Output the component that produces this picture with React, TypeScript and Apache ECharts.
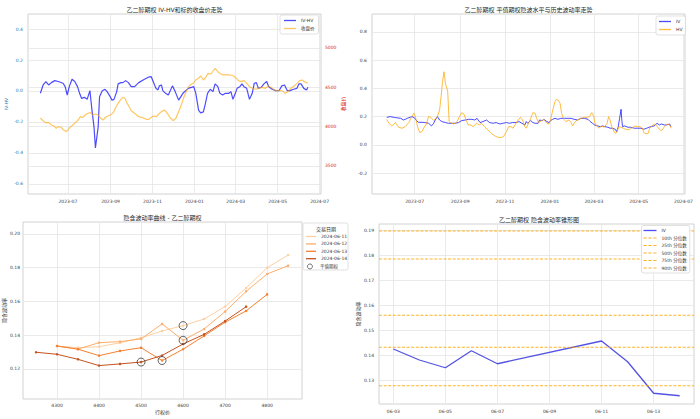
import React, { useEffect, useRef } from 'react';
import * as echarts from 'echarts';

// ---------- Top-left: IV-HV and underlying close ----------
const ivHvDates = [
  '2023-05-22', '2023-05-26', '2023-05-30',
  '2023-06-03', '2023-06-07', '2023-06-12', '2023-06-17', '2023-06-24', '2023-06-27', '2023-06-30',
  '2023-07-03', '2023-07-07', '2023-07-11', '2023-07-15', '2023-07-18', '2023-07-21', '2023-07-25', '2023-07-29',
  '2023-08-02', '2023-08-05', '2023-08-08', '2023-08-10', '2023-08-14', '2023-08-16', '2023-08-20', '2023-08-24', '2023-08-27', '2023-08-31',
  '2023-09-03', '2023-09-06', '2023-09-10', '2023-09-12', '2023-09-16', '2023-09-19', '2023-09-23', '2023-09-27',
  '2023-10-01', '2023-10-06', '2023-10-12', '2023-10-19', '2023-10-26', '2023-10-30',
  '2023-11-02', '2023-11-06', '2023-11-09', '2023-11-11', '2023-11-14', '2023-11-16', '2023-11-20', '2023-11-24', '2023-11-30',
  '2023-12-04', '2023-12-09', '2023-12-16', '2023-12-23', '2023-12-31',
  '2024-01-03', '2024-01-07', '2024-01-10', '2024-01-14', '2024-01-17', '2024-01-20', '2024-01-24', '2024-01-28', '2024-01-31',
  '2024-02-04', '2024-02-07', '2024-02-11', '2024-02-15', '2024-02-20', '2024-02-23', '2024-02-26', '2024-02-29',
  '2024-03-03', '2024-03-07', '2024-03-10', '2024-03-13', '2024-03-17', '2024-03-21', '2024-03-25', '2024-03-28', '2024-03-31',
  '2024-04-03', '2024-04-07', '2024-04-11', '2024-04-15', '2024-04-18', '2024-04-23', '2024-04-28',
  '2024-05-03', '2024-05-07', '2024-05-11', '2024-05-15', '2024-05-19', '2024-05-24', '2024-05-29',
  '2024-06-01', '2024-06-04', '2024-06-08', '2024-06-12', '2024-06-14',
];
const ivHvValues = [
  -0.015, 0.039, 0.061,
  0.039, 0.054, 0.067, 0.061, 0.050, 0.028, -0.026,
  0.028, 0.076, 0.061, 0.028, -0.015, -0.048, -0.041, -0.054,
  0.002, -0.124, -0.233, -0.367, -0.233, -0.037, 0.002, 0.011, -0.004, -0.033,
  -0.059, -0.054, -0.004, 0.046, 0.054, 0.054, 0.067, 0.054,
  0.028, 0.028, 0.054, 0.072, 0.089, 0.093,
  0.061, 0.017, 0.007, 0.033, 0.039, 0.002, -0.015, -0.026, 0.033,
  -0.004, -0.059, -0.011, 0.017, 0.028,
  -0.015, -0.124, -0.141, -0.135, -0.080, -0.015, 0.011, -0.004, 0.046,
  0.028, -0.015, -0.026, -0.015, -0.015, -0.004, -0.054, -0.020,
  0.017, 0.028, 0.046, 0.028, 0.017, -0.054, -0.015, 0.050, 0.054,
  0.017, 0.024, 0.046, 0.061, 0.028, 0.011, 0.002,
  0.002, 0.033, 0.039, 0.002, 0.002, 0.011, 0.017,
  0.046, 0.046, 0.017, 0.007, 0.024,
];
const closeDates = [
  '2023-05-22', '2023-05-26', '2023-05-29',
  '2023-06-03', '2023-06-07', '2023-06-11', '2023-06-14', '2023-06-17', '2023-06-21', '2023-06-25', '2023-06-29',
  '2023-07-01', '2023-07-05', '2023-07-08', '2023-07-12', '2023-07-16', '2023-07-19', '2023-07-23', '2023-07-26', '2023-07-30',
  '2023-08-03', '2023-08-06', '2023-08-10', '2023-08-14', '2023-08-18', '2023-08-21', '2023-08-25', '2023-08-28',
  '2023-09-01', '2023-09-05', '2023-09-08', '2023-09-12', '2023-09-16', '2023-09-19', '2023-09-22', '2023-09-24', '2023-09-28',
  '2023-10-01', '2023-10-05', '2023-10-09', '2023-10-12', '2023-10-16', '2023-10-20', '2023-10-23', '2023-10-27', '2023-10-31',
  '2023-11-04', '2023-11-07', '2023-11-10', '2023-11-14', '2023-11-18', '2023-11-22', '2023-11-27',
  '2023-12-01', '2023-12-05', '2023-12-08', '2023-12-12', '2023-12-16', '2023-12-20', '2023-12-23', '2023-12-26', '2023-12-31',
  '2024-01-03', '2024-01-07', '2024-01-10', '2024-01-14', '2024-01-18', '2024-01-21', '2024-01-25', '2024-01-29', '2024-01-31',
  '2024-02-04', '2024-02-07', '2024-02-11', '2024-02-16', '2024-02-22', '2024-02-27',
  '2024-03-02', '2024-03-05', '2024-03-09', '2024-03-13', '2024-03-16', '2024-03-21', '2024-03-25', '2024-03-30',
  '2024-04-03', '2024-04-08', '2024-04-13', '2024-04-18', '2024-04-23', '2024-04-28',
  '2024-05-02', '2024-05-07', '2024-05-12', '2024-05-16', '2024-05-20', '2024-05-25', '2024-05-29',
  '2024-06-02', '2024-06-06', '2024-06-09', '2024-06-14',
];
const closeValues = [
  4106, 4076, 4051,
  4051, 4021, 4008, 3979, 4000, 3992, 3958, 3936,
  3958, 4000, 4021, 4051, 4085, 4127, 4119, 4148, 4170,
  4178, 4148, 4161, 4148, 4106, 4085, 4119, 4136,
  4148, 4178, 4233, 4297, 4347, 4373, 4360, 4318, 4254,
  4203, 4178, 4148, 4127, 4119, 4106, 4093, 4093, 4127,
  4136, 4127, 4161, 4191, 4212, 4178, 4110,
  4076, 4106, 4170, 4254, 4360, 4445, 4500, 4530, 4559,
  4593, 4614, 4644, 4593, 4636, 4678, 4669, 4720, 4742,
  4699, 4678, 4657, 4657, 4657, 4644,
  4614, 4585, 4572, 4585, 4559, 4508, 4487, 4475,
  4487, 4500, 4487, 4517, 4487, 4458,
  4458, 4458, 4424, 4445, 4487, 4517, 4551,
  4585, 4593, 4572, 4551,
];

// ---------- Top-right: ATM IV vs HV ----------
const ivDates = [
  '2023-05-24', '2023-05-29',
  '2023-06-05', '2023-06-12', '2023-06-16', '2023-06-21', '2023-06-27', '2023-06-30',
  '2023-07-03', '2023-07-06', '2023-07-11', '2023-07-15', '2023-07-20', '2023-07-24', '2023-07-27', '2023-07-29',
  '2023-08-01', '2023-08-04', '2023-08-07', '2023-08-12', '2023-08-16', '2023-08-21', '2023-08-25', '2023-08-30',
  '2023-09-03', '2023-09-08', '2023-09-12', '2023-09-17', '2023-09-21', '2023-09-24', '2023-09-28',
  '2023-10-02', '2023-10-07', '2023-10-11', '2023-10-16', '2023-10-20', '2023-10-25', '2023-10-29',
  '2023-11-03', '2023-11-07', '2023-11-11', '2023-11-16', '2023-11-20', '2023-11-24', '2023-11-28', '2023-11-30',
  '2023-12-02', '2023-12-06', '2023-12-09', '2023-12-12', '2023-12-16', '2023-12-18', '2023-12-22', '2023-12-24', '2023-12-28', '2023-12-31',
  '2024-01-02', '2024-01-05', '2024-01-08', '2024-01-12', '2024-01-16', '2024-01-21', '2024-01-26', '2024-01-30',
  '2024-02-03', '2024-02-08', '2024-02-12', '2024-02-17', '2024-02-22', '2024-02-25', '2024-02-28',
  '2024-03-02', '2024-03-06', '2024-03-10', '2024-03-13', '2024-03-16', '2024-03-20', '2024-03-23', '2024-03-26', '2024-03-30',
  '2024-04-01', '2024-04-03', '2024-04-05', '2024-04-07', '2024-04-08', '2024-04-09', '2024-04-12', '2024-04-16', '2024-04-20', '2024-04-25', '2024-04-29',
  '2024-05-04', '2024-05-08', '2024-05-12', '2024-05-15', '2024-05-18', '2024-05-22', '2024-05-26', '2024-05-29',
  '2024-06-01', '2024-06-05', '2024-06-08', '2024-06-12', '2024-06-14',
];
const ivValues = [
  0.195, 0.200,
  0.193, 0.188, 0.176, 0.188, 0.200, 0.195,
  0.176, 0.160, 0.160, 0.158, 0.153, 0.134, 0.153, 0.176,
  0.200, 0.176, 0.165, 0.158, 0.153, 0.153, 0.153, 0.158,
  0.172, 0.176, 0.181, 0.181, 0.176, 0.188, 0.158,
  0.165, 0.176, 0.158, 0.153, 0.158, 0.148, 0.153,
  0.158, 0.153, 0.158, 0.158, 0.165, 0.153, 0.141, 0.165,
  0.153, 0.172, 0.158, 0.153, 0.153, 0.176, 0.172, 0.181, 0.165, 0.158,
  0.172, 0.181, 0.188, 0.181, 0.188, 0.188, 0.188, 0.188,
  0.181, 0.176, 0.188, 0.188, 0.181, 0.165, 0.153,
  0.141, 0.134, 0.129, 0.134, 0.129, 0.125, 0.118, 0.118, 0.111,
  0.094, 0.125, 0.188, 0.252, 0.176, 0.129, 0.134, 0.125, 0.125, 0.118, 0.118,
  0.118, 0.111, 0.118, 0.125, 0.129, 0.134, 0.153, 0.141,
  0.148, 0.141, 0.141, 0.148, 0.129,
];
const hvDates = [
  '2023-05-24', '2023-05-27', '2023-05-31',
  '2023-06-05', '2023-06-09', '2023-06-14', '2023-06-18', '2023-06-23', '2023-06-27', '2023-06-30',
  '2023-07-02', '2023-07-05', '2023-07-08', '2023-07-11', '2023-07-14', '2023-07-17', '2023-07-20', '2023-07-23', '2023-07-27', '2023-07-30',
  '2023-08-01', '2023-08-04', '2023-08-06', '2023-08-08', '2023-08-10', '2023-08-12', '2023-08-15', '2023-08-17', '2023-08-19', '2023-08-23', '2023-08-27', '2023-08-31',
  '2023-09-03', '2023-09-06', '2023-09-09', '2023-09-12', '2023-09-15', '2023-09-19', '2023-09-23', '2023-09-27', '2023-09-30',
  '2023-10-04', '2023-10-09', '2023-10-13', '2023-10-18', '2023-10-22', '2023-10-27', '2023-10-30',
  '2023-11-03', '2023-11-06', '2023-11-09', '2023-11-12', '2023-11-16', '2023-11-19', '2023-11-22', '2023-11-25', '2023-11-28', '2023-11-30',
  '2023-12-03', '2023-12-06', '2023-12-09', '2023-12-12', '2023-12-14', '2023-12-17', '2023-12-21', '2023-12-24', '2023-12-28', '2023-12-31',
  '2024-01-02', '2024-01-05', '2024-01-08', '2024-01-10', '2024-01-13', '2024-01-15', '2024-01-17', '2024-01-20', '2024-01-23', '2024-01-27', '2024-01-30',
  '2024-02-01', '2024-02-03', '2024-02-07', '2024-02-10', '2024-02-13', '2024-02-17', '2024-02-21', '2024-02-24', '2024-02-27',
  '2024-03-01', '2024-03-02', '2024-03-05', '2024-03-08', '2024-03-11', '2024-03-15', '2024-03-19', '2024-03-21', '2024-03-23', '2024-03-26', '2024-03-30',
  '2024-04-01', '2024-04-04', '2024-04-07', '2024-04-10', '2024-04-13', '2024-04-17', '2024-04-19', '2024-04-23', '2024-04-26', '2024-04-29',
  '2024-05-03', '2024-05-06', '2024-05-08', '2024-05-11', '2024-05-14', '2024-05-16', '2024-05-20', '2024-05-23', '2024-05-27', '2024-05-31',
  '2024-06-02', '2024-06-05', '2024-06-08', '2024-06-12', '2024-06-14',
];
const hvValues = [
  0.181, 0.153, 0.134,
  0.158, 0.125, 0.118, 0.129, 0.158, 0.200, 0.224,
  0.200, 0.129, 0.087, 0.094, 0.125, 0.148, 0.200, 0.195, 0.172, 0.188,
  0.200, 0.247, 0.341, 0.447, 0.518, 0.435, 0.380, 0.165, 0.158, 0.148, 0.158, 0.200,
  0.228, 0.219, 0.176, 0.141, 0.141, 0.129, 0.153, 0.141, 0.153,
  0.129, 0.106, 0.082, 0.064, 0.054, 0.052, 0.059,
  0.094, 0.129, 0.129, 0.118, 0.153, 0.176, 0.195, 0.176, 0.129, 0.118,
  0.153, 0.188, 0.228, 0.224, 0.188, 0.158, 0.172, 0.181, 0.153, 0.148,
  0.176, 0.247, 0.306, 0.322, 0.313, 0.294, 0.224, 0.181, 0.165, 0.176, 0.158,
  0.134, 0.153, 0.176, 0.181, 0.188, 0.195, 0.195, 0.200, 0.228,
  0.200, 0.158, 0.134, 0.118, 0.134, 0.125, 0.153, 0.200, 0.176, 0.118, 0.082,
  0.087, 0.129, 0.125, 0.118, 0.111, 0.106, 0.111, 0.125, 0.134, 0.129,
  0.129, 0.118, 0.087, 0.078, 0.082, 0.118, 0.141, 0.148, 0.125, 0.101,
  0.106, 0.129, 0.148, 0.141, 0.118,
];

// ---------- Bottom-left: smile ----------
const strikes = [4250, 4300, 4350, 4400, 4450, 4500, 4550, 4600, 4650, 4700, 4750, 4800, 4850];
const smileDates = ['2024-06-11', '2024-06-12', '2024-06-13', '2024-06-14'];
const smile0611 = [null, 0.1336, 0.1326, 0.1332, 0.1355, 0.1385, 0.1425, 0.1457, 0.1496, 0.157, 0.168, 0.180, 0.1875];
const smile0612 = [null, 0.1336, 0.1318, 0.1356, 0.1362, 0.1378, 0.1467, 0.137, 0.1437, 0.154, 0.166, 0.1763, 0.1812];
const smile0613 = [null, 0.1336, 0.1317, 0.1279, 0.1307, 0.1326, 0.125, 0.1317, 0.1396, 0.1477, 0.1544, 0.1642, null];
const smile0614 = [0.1299, 0.1287, 0.1257, 0.122, 0.123, 0.1241, 0.128, 0.1348, 0.1405, 0.1484, 0.1569, null, null];
const atmStrikes = [4600, 4600, 4550, 4500];
const atmIV = [0.1457, 0.137, 0.125, 0.1241];

// ---------- Bottom-right: cone ----------
const coneDates = ['2024-06-03', '2024-06-04', '2024-06-05', '2024-06-06', '2024-06-07', '2024-06-11', '2024-06-12', '2024-06-13', '2024-06-14'];
const coneIV = [0.1424, 0.138, 0.1349, 0.1417, 0.1365, 0.1456, 0.1373, 0.1247, 0.1237];
const pctLabels = ['10th 分位数', '25th 分位数', '50th 分位数', '75th 分位数', '90th 分位数'];
const pctValues = [0.1277, 0.1431, 0.1559, 0.1784, 0.1896];

// ---------- tick labels ----------
const monthTickDates = ['2023-07-01', '2023-09-01', '2023-11-01', '2024-01-01', '2024-03-01', '2024-05-01', '2024-07-01'];
const dayTickDates = ['2024-06-03', '2024-06-05', '2024-06-07', '2024-06-09', '2024-06-11', '2024-06-13'];
const ivHvTicks = [-0.6, -0.4, -0.2, 0, 0.2, 0.4];
const priceTicks = [3500, 4000, 4500, 5000];
const trTicks = [-0.2, 0, 0.2, 0.4, 0.6, 0.8];
const strikeTicks = [4300, 4400, 4500, 4600, 4700, 4800];
const smileTicks = [0.12, 0.14, 0.16, 0.18, 0.2];
const coneTicks = [0.13, 0.14, 0.15, 0.16, 0.17, 0.18, 0.19];

const FONT = "'DejaVu Sans', 'Noto Sans CJK SC', sans-serif";
const GRIDLINE = '#e4e4e4';
const TICK = '#3a3a3a';
const BORDER = '#d2d2d2';
const LBL = 4.5;

const ts = (d: string, h = 0, mi = 0) => {
  const [y, m, dd] = d.split('-').map(Number);
  return Date.UTC(y, m - 1, dd, h, mi);
};
const pad = (n: number) => String(n).padStart(2, '0');
const fmtYM = (v: number) => {
  const d = new Date(v);
  return `${d.getUTCFullYear()}-${pad(d.getUTCMonth() + 1)}`;
};
const fmtMD = (v: number) => {
  const d = new Date(v);
  return `${pad(d.getUTCMonth() + 1)}-${pad(d.getUTCDate())}`;
};
const pairs = (xs: any[], ys: (number | null)[]) =>
  xs.map((x, i) => [x, ys[i]]).filter((p) => p[1] !== null && p[1] !== undefined);

const monthTicks = monthTickDates.map((d) => ts(d));
const dayTicks = dayTickDates.map((d) => ts(d));
const tMin = ts('2023-05-04');
const tMax = ts('2024-07-03');
const cMin = ts('2024-06-02', 10, 48);
const cMax = ts('2024-06-14', 13, 12);

const DASH_ICON = 'path://M0 0H3V1H0Z M4.5 0H7.5V1H4.5Z M9 0H12V1H9Z';

function valueAxis(gridIndex: number, min: number, max: number, ticks: number[], fmt: (v: number) => string, color = TICK, margin = 4) {
  return {
    type: 'value',
    gridIndex,
    min,
    max,
    scale: true,
    axisLine: { show: false },
    axisTick: { show: false, customValues: ticks },
    axisLabel: { customValues: ticks, formatter: fmt, fontSize: LBL, color, margin, fontFamily: FONT, hideOverlap: false },
    splitLine: { show: true, lineStyle: { color: GRIDLINE, width: 0.8 } },
  };
}
const gridBox = (left: number, top: number, width: number, height: number) => ({
  left, top, width, height, show: true, borderColor: BORDER, borderWidth: 1, backgroundColor: '#fff', outerBoundsMode: 'none',
});
const legendText = { fontSize: LBL, lineHeight: 5, color: '#333', fontFamily: FONT };

const smileColors = ['#fdd0a2', '#fdae6b', '#f5812f', '#c4531f'];
const smileSets = [smile0611, smile0612, smile0613, smile0614];

const titleText = (x: number, y: number, text: string) => ({
  type: 'text', x, y, z: 10,
  style: { text, fontSize: 6, fill: '#262626', textAlign: 'center', textVerticalAlign: 'middle', fontFamily: FONT },
});

const option: any = {
  animation: false,
  backgroundColor: '#fff',
  textStyle: { fontFamily: FONT },
  grid: [
    gridBox(28, 14, 293, 180),
    gridBox(372, 14, 313, 180),
    gridBox(23, 222, 279, 177),
    gridBox(379, 224, 315, 180),
  ],
  xAxis: [
    valueAxis(0, tMin, tMax, monthTicks, fmtYM, TICK, 5),
    valueAxis(1, tMin, tMax, monthTicks, fmtYM, TICK, 5),
    {
      ...valueAxis(2, 4219, 4883, strikeTicks, (v) => String(v), TICK, 4),
      name: '行权价', nameLocation: 'middle', nameGap: 10.5,
      nameTextStyle: { fontSize: 5, color: '#262626', fontFamily: FONT },
    },
    valueAxis(3, cMin, cMax, dayTicks, fmtMD, TICK, 5),
  ],
  yAxis: [
    {
      ...valueAxis(0, -0.665, 0.497, ivHvTicks, (v) => v.toFixed(1), '#1f77b4', 5),
      name: 'IV-HV', nameLocation: 'middle', nameGap: 19, nameRotate: 90,
      nameTextStyle: { fontSize: LBL, color: '#1f77b4', fontFamily: FONT },
    },
    {
      ...valueAxis(0, 3144, 5432, priceTicks, (v) => String(v), '#d62728', 4),
      position: 'right',
      name: '收盘价', nameLocation: 'middle', nameGap: 17, nameRotate: 90,
      nameTextStyle: { fontSize: 5, color: '#d62728', fontFamily: FONT },
    },
    valueAxis(1, -0.348, 0.927, trTicks, (v) => v.toFixed(1), TICK, 5),
    {
      ...valueAxis(2, 0.1022, 0.2071, smileTicks, (v) => v.toFixed(2), TICK, 3),
      name: '隐含波动率', nameLocation: 'middle', nameGap: 16, nameRotate: 90,
      nameTextStyle: { fontSize: 5, color: '#262626', fontFamily: FONT },
    },
    {
      ...valueAxis(3, 0.1204, 0.1924, coneTicks, (v) => v.toFixed(2), TICK, 5),
      name: '隐含波动率', nameLocation: 'middle', nameGap: 19, nameRotate: 90,
      nameTextStyle: { fontSize: 5, color: '#262626', fontFamily: FONT },
    },
  ],
  legend: [
    {
      data: [{ name: 'IV-HV', icon: 'rect' }, { name: '收盘价', icon: 'rect' }],
      orient: 'vertical', left: 280, top: 15, padding: [3, 4, 3, 4], itemGap: 3,
      itemWidth: 12, itemHeight: 1.3, textStyle: legendText,
      backgroundColor: '#fff', borderColor: '#cccccc', borderWidth: 0.6, borderRadius: 2,
    },
    {
      data: [{ name: 'IV', icon: 'rect' }, { name: 'HV', icon: 'rect' }],
      orient: 'vertical', left: 656, top: 16, padding: [3, 3, 3, 3], itemGap: 3,
      itemWidth: 12, itemHeight: 1.3, textStyle: legendText,
      backgroundColor: '#fff', borderColor: '#cccccc', borderWidth: 0.6, borderRadius: 2,
    },
    {
      data: smileDates.map((d) => ({ name: d, icon: 'rect' })),
      orient: 'vertical', left: 306, top: 234, padding: 0, itemGap: 2.4,
      itemWidth: 10, itemHeight: 1.3, textStyle: legendText,
    },
    {
      data: [{ name: '平值期权', icon: 'circle' }],
      orient: 'vertical', left: 307, top: 263.5, padding: 0,
      itemWidth: 10, itemHeight: 5, textStyle: legendText,
      itemStyle: { color: 'rgba(0,0,0,0)', borderColor: '#3c3c3c', borderWidth: 0.9 },
    },
    {
      data: [{ name: 'IV', icon: 'rect' }, ...pctLabels.map((n) => ({ name: n, icon: DASH_ICON }))],
      orient: 'vertical', left: 641.5, top: 225.5, padding: [2.5, 3, 2.5, 2], itemGap: 2.5,
      itemWidth: 13, itemHeight: 1.3, textStyle: legendText,
      backgroundColor: '#fff', borderColor: '#cccccc', borderWidth: 0.6, borderRadius: 2,
    },
  ],
  graphic: [
    titleText(174.5, 9, '乙二醇期权 IV-HV和标的收盘价走势'),
    titleText(528.5, 9, '乙二醇期权 平值期权隐波水平与历史波动率走势'),
    titleText(162.5, 217, '隐含波动率曲线 - 乙二醇期权'),
    titleText(539, 219, '乙二醇期权 隐含波动率锥形图'),
    {
      type: 'rect', z: 1,
      shape: { x: 303, y: 223, width: 45, height: 47, r: 2 },
      style: { fill: '#fff', stroke: '#cccccc', lineWidth: 0.6 },
    },
    {
      type: 'text', x: 326, y: 229, z: 10,
      style: { text: '交易日期', fontSize: 5, fill: '#262626', textAlign: 'center', textVerticalAlign: 'middle', fontFamily: FONT },
    },
  ],
  series: [
    {
      type: 'line', name: 'IV-HV', xAxisIndex: 0, yAxisIndex: 0,
      data: pairs(ivHvDates.map((d) => ts(d)), ivHvValues),
      symbol: 'none', color: 'rgba(0,0,255,0.7)', lineStyle: { width: 1.2, color: 'rgba(0,0,255,0.7)' },
    },
    {
      type: 'line', name: '收盘价', xAxisIndex: 0, yAxisIndex: 1,
      data: pairs(closeDates.map((d) => ts(d)), closeValues),
      symbol: 'none', color: 'rgba(255,165,0,0.62)', lineStyle: { width: 1.2, color: 'rgba(255,165,0,0.62)' },
    },
    {
      type: 'line', name: 'IV', xAxisIndex: 1, yAxisIndex: 2,
      data: pairs(ivDates.map((d) => ts(d)), ivValues),
      symbol: 'none', color: 'rgba(0,0,255,0.7)', lineStyle: { width: 1, color: 'rgba(0,0,255,0.7)' },
    },
    {
      type: 'line', name: 'HV', xAxisIndex: 1, yAxisIndex: 2,
      data: pairs(hvDates.map((d) => ts(d)), hvValues),
      symbol: 'none', color: 'rgba(255,165,0,0.75)', lineStyle: { width: 1, color: 'rgba(255,165,0,0.75)' },
    },
    ...smileSets.map((set, i) => ({
      type: 'line', name: smileDates[i], xAxisIndex: 2, yAxisIndex: 3,
      data: pairs(strikes, set),
      symbol: 'circle', symbolSize: 2.5, showSymbol: true,
      color: smileColors[i],
      lineStyle: { width: 1, color: smileColors[i] },
      itemStyle: { color: smileColors[i] },
    })),
    {
      type: 'scatter', name: '平值期权', xAxisIndex: 2, yAxisIndex: 3, z: 5,
      data: pairs(atmStrikes, atmIV),
      symbol: 'circle', symbolSize: 8,
      itemStyle: { color: 'rgba(0,0,0,0)', borderColor: '#3c3c3c', borderWidth: 1 },
    },
    {
      type: 'line', name: 'IV', xAxisIndex: 3, yAxisIndex: 4,
      data: pairs(coneDates.map((d) => ts(d)), coneIV),
      symbol: 'none', color: 'rgba(0,0,255,0.7)', lineStyle: { width: 1.3, color: 'rgba(40,40,220,0.8)' },
    },
    ...pctLabels.map((n, i) => ({
      type: 'line', name: n, xAxisIndex: 3, yAxisIndex: 4,
      data: [[cMin, pctValues[i]], [cMax, pctValues[i]]],
      symbol: 'none', color: 'rgba(255,165,0,0.85)',
      lineStyle: { width: 1, type: [3, 1.6], color: 'rgba(255,165,0,0.85)' },
    })),
  ],
};

export default function App() {
  const ref = useRef<HTMLDivElement>(null);
  useEffect(() => {
    if (!ref.current) return;
    const chart = echarts.init(ref.current, null, { renderer: 'svg', width: 700, height: 419 });
    chart.setOption(option);
    return () => chart.dispose();
  }, []);
  return (
    <div
      ref={ref}
      style={{ position: 'absolute', left: 0, top: 0, width: 700, height: 419, background: '#fff' }}
    />
  );
}
